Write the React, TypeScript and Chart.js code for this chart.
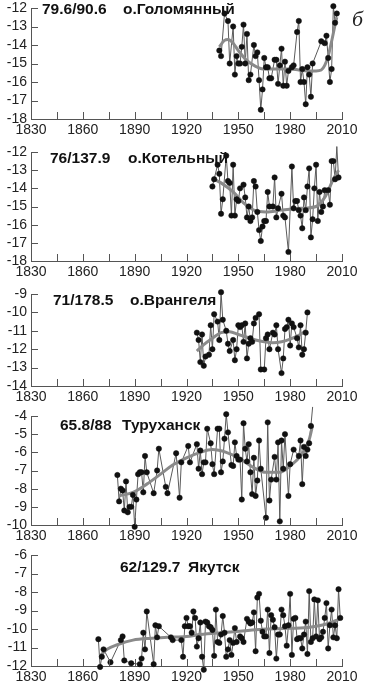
import React, { useEffect, useRef } from 'react';
import { Chart, registerables } from 'chart.js';
Chart.register(...registerables);

// ---------- data ----------
const xMinYear = 1830;
const xMaxYear = 2010;
const xStep = 15;

// Panel 1: 79.6/90.6 о.Голомянный
const golYears = [1939,1940,1942,1944,1945,1947,1948,1949,1950,1951,1952,1953,1954,1955,1956,1957,1959,1960,1961,1962,1963,1964,1965,1966,1967,1968,1969,1971,1972,1973,1974,1975,1976,1977,1978,1979,1981,1982,1984,1985,1986,1987,1988,1989,1990,1991,1992,1993,1998,2000,2001,2002,2003,2004,2005,2006,2007];
const golTemp = [-14.3,-14.6,-12.3,-12.7,-15.0,-13.0,-15.6,-14.6,-15.0,-15.0,-14.1,-12.9,-15.0,-13.4,-15.9,-15.6,-14.0,-14.6,-14.4,-15.9,-17.5,-16.4,-14.7,-15.2,-15.2,-15.8,-15.8,-14.8,-14.8,-16.1,-15.1,-14.2,-16.2,-14.9,-16.2,-15.4,-15.2,-15.1,-13.3,-12.7,-16.0,-15.3,-16.0,-17.2,-15.2,-15.6,-16.8,-15.0,-13.8,-13.9,-13.5,-14.7,-16.0,-15.3,-11.9,-12.8,-12.3];
const golTrendYears = [1939,1942,1944,1947,1950,1955,1960,1965,1970,1975,1980,1985,1990,1995,1998,2000,2002,2004,2006,2007];
const golTrend = [-14.1,-13.75,-13.7,-13.9,-14.3,-14.85,-15.15,-15.3,-15.3,-15.3,-15.3,-15.35,-15.4,-15.4,-15.35,-15.1,-14.6,-13.8,-12.9,-12.5];

// Panel 2: 76/137.9 о.Котельный
const kotYears = [1935,1936,1938,1939,1940,1941,1943,1944,1945,1946,1947,1948,1949,1950,1951,1953,1954,1955,1956,1957,1958,1959,1960,1961,1962,1963,1964,1965,1966,1967,1968,1970,1971,1972,1973,1975,1976,1977,1979,1981,1982,1983,1984,1985,1986,1987,1988,1989,1990,1991,1992,1993,1994,1995,1996,1997,1998,1999,2000,2002,2003,2004,2005,2006,2007,2008];
const kotTemp = [-13.9,-13.5,-12.7,-13.2,-15.4,-14.6,-12.2,-13.6,-13.7,-15.5,-12.7,-15.5,-14.6,-14.7,-14.0,-13.8,-14.5,-15.6,-15.0,-15.8,-15.6,-13.6,-13.9,-15.3,-16.3,-16.9,-16.1,-15.8,-15.8,-14.2,-15.0,-15.0,-13.4,-15.6,-15.1,-14.3,-15.5,-15.6,-17.5,-12.8,-15.1,-14.7,-14.7,-15.2,-15.5,-16.2,-14.5,-15.2,-13.9,-12.9,-16.7,-15.7,-14.0,-12.7,-15.8,-14.2,-15.3,-15.0,-14.1,-14.1,-14.9,-12.5,-12.5,-13.5,-11.7,-13.4];
const kotTrendYears = [1935,1940,1947,1953,1959,1966,1975,1986,1995,2000,2005,2008];
const kotTrend = [-13.45,-13.7,-14.2,-14.8,-15.2,-15.3,-15.2,-15.1,-15.0,-14.5,-13.5,-13.0];

// Panel 3: 71/178.5 о.Врангеля
const wraYears = [1926,1927,1928,1929,1930,1931,1933,1934,1935,1936,1938,1939,1940,1941,1943,1944,1945,1947,1948,1949,1950,1951,1952,1953,1954,1955,1956,1957,1958,1959,1960,1962,1963,1965,1966,1967,1968,1970,1971,1972,1973,1975,1976,1977,1978,1979,1980,1981,1982,1984,1985,1986,1987,1988,1989,1990];
const wraTemp = [-11.1,-11.5,-12.7,-11.2,-12.9,-12.4,-12.3,-10.7,-12.0,-10.1,-10.5,-11.5,-8.9,-10.4,-11.0,-11.7,-12.1,-11.5,-12.6,-12.0,-10.7,-10.8,-10.7,-11.6,-10.6,-12.5,-11.7,-11.4,-11.6,-10.6,-10.3,-10.1,-13.1,-13.1,-11.4,-11.2,-12.0,-11.1,-11.2,-10.7,-12.0,-13.3,-12.5,-10.9,-10.8,-10.4,-11.8,-10.6,-10.8,-11.4,-11.9,-10.7,-12.3,-12.0,-11.1,-10.0];
const wraTrendYears = [1926,1930,1935,1940,1945,1950,1955,1960,1965,1970,1975,1980,1985,1989];
const wraTrend = [-12.1,-11.75,-11.4,-11.1,-11.05,-11.2,-11.35,-11.5,-11.6,-11.65,-11.6,-11.45,-11.25,-11.0];

// Panel 4: 65.8/88 Туруханск
const turYears = [1880,1881,1882,1883,1884,1885,1886,1887,1888,1889,1890,1891,1892,1893,1894,1895,1896,1897,1901,1903,1904,1908,1909,1914,1916,1917,1921,1922,1926,1927,1928,1929,1930,1931,1932,1934,1935,1936,1938,1939,1940,1941,1942,1943,1944,1946,1947,1948,1949,1950,1951,1952,1953,1954,1955,1956,1957,1958,1959,1960,1961,1962,1963,1966,1967,1968,1969,1971,1972,1973,1974,1975,1976,1977,1979,1980,1982,1985,1986,1987,1988,1989,1990,1991,1992,1993];
const turTemp = [-7.25,-8.7,-8.0,-8.1,-9.2,-7.6,-9.3,-9.0,-9.0,-8.35,-10.1,-8.6,-7.2,-7.1,-7.1,-8.2,-6.2,-7.1,-8.25,-7.0,-5.8,-7.9,-8.25,-6.05,-8.5,-6.55,-5.65,-6.55,-5.55,-6.9,-5.9,-7.2,-6.55,-6.55,-4.7,-5.5,-6.65,-7.2,-4.7,-4.7,-7.1,-6.5,-5.25,-3.9,-4.9,-6.7,-6.75,-5.45,-6.2,-6.4,-6.4,-8.6,-4.4,-5.8,-6.5,-5.55,-7.1,-8.3,-6.3,-8.4,-7.55,-5.35,-6.9,-9.6,-4.35,-8.65,-7.5,-6.25,-7.5,-5.45,-9.8,-5.35,-6.9,-5.0,-8.4,-6.65,-5.85,-6.2,-5.35,-7.75,-5.7,-6.2,-5.85,-5.5,-4.55,-3.5];
const turTrendYears = [1881,1889,1897,1905,1912,1920,1928,1935,1943,1951,1959,1966,1974,1980,1986,1991,1993];
const turTrend = [-8.4,-8.2,-7.75,-7.2,-6.7,-6.3,-6.0,-5.85,-6.0,-6.35,-6.85,-7.1,-7.1,-6.75,-6.2,-5.3,-4.5];

// Panel 5: 62/129.7 Якутск
const yakYears = [1869,1870,1871,1872,1876,1882,1883,1884,1888,1893,1894,1895,1896,1897,1901,1902,1903,1904,1911,1912,1917,1918,1919,1920,1921,1922,1923,1924,1925,1926,1927,1928,1929,1930,1931,1932,1933,1934,1935,1936,1937,1938,1939,1940,1941,1942,1943,1944,1945,1946,1947,1948,1949,1951,1952,1953,1955,1956,1957,1958,1959,1960,1961,1962,1963,1964,1965,1966,1967,1968,1969,1970,1971,1972,1973,1974,1975,1976,1977,1978,1979,1980,1981,1982,1983,1984,1985,1986,1987,1988,1989,1990,1991,1992,1993,1994,1995,1996,1997,1998,1999,2000,2001,2002,2003,2004,2005,2006,2007,2008,2009];
const yakTemp = [-10.55,-12.05,-11.5,-11.1,-11.8,-10.6,-10.4,-11.7,-11.85,-11.9,-11.6,-10.2,-11.1,-9.05,-11.9,-9.8,-10.45,-9.85,-10.45,-10.6,-10.6,-11.5,-9.85,-9.4,-9.85,-9.85,-10.2,-9.05,-9.4,-10.95,-10.5,-9.65,-11.5,-12.2,-9.6,-9.65,-9.85,-9.9,-10.05,-11.45,-8.95,-10.7,-10.75,-10.3,-9.3,-10.2,-11.5,-11.1,-10.6,-11.4,-10.75,-9.95,-10.7,-10.4,-10.5,-10.7,-9.45,-9.6,-9.7,-9.65,-9.1,-11.2,-8.3,-8.1,-9.55,-10.15,-10.4,-10.4,-8.95,-11.3,-9.25,-9.5,-9.9,-11.6,-10.3,-10.3,-8.95,-9.25,-9.85,-10.9,-9.8,-8.1,-11.4,-9.45,-9.4,-10.55,-10.5,-10.5,-11.05,-10.3,-9.6,-11.35,-7.95,-10.7,-10.5,-8.4,-10.4,-8.45,-10.55,-10.45,-10.15,-9.4,-8.6,-11.05,-9.8,-8.95,-10.45,-9.8,-10.5,-7.85,-9.4];
const yakTrendYears = [1870,1874,1880,1889,1900,1909,1920,1928,1940,1947,1958,1966,1976,1986,1995,2002,2009];
const yakTrend = [-11.45,-11.1,-10.85,-10.6,-10.5,-10.45,-10.4,-10.3,-10.2,-10.15,-10.05,-10.0,-9.97,-9.95,-9.85,-9.7,-9.45];

const stationCodes = ['79.6/90.6', '76/137.9', '71/178.5', '65.8/88', '62/129.7'];
const stationNames = ['о.Голомянный', 'о.Котельный', 'о.Врангеля', 'Туруханск', 'Якутск'];
const yMins = [-18, -18, -14, -10, -12];
const yMaxs = [-12, -12, -9, -4, -6];
const panelYears = [golYears, kotYears, wraYears, turYears, yakYears];
const panelTemps = [golTemp, kotTemp, wraTemp, turTemp, yakTemp];
const panelTrendYears = [golTrendYears, kotTrendYears, wraTrendYears, turTrendYears, yakTrendYears];
const panelTrends = [golTrend, kotTrend, wraTrend, turTrend, yakTrend];
const panelLetter = 'б';

// ---------- layout (page pixels) ----------
const W = 365;
const AREA_LEFT = 31;
const AREA_RIGHT = 342;
const PAD_TOP = 14;
const X_AXIS_H = 20;
const areaTops = [7.5, 152, 294, 416, 555];
const areaBottoms = [118, 261, 386, 525, 666];
const codeX = [42, 50, 53, 60, 120];
const nameX = [123, 128, 130, 122, 188];
const titleBaseY = [13.5, 162.5, 304.5, 430, 571.5];

const FONT = '"Liberation Sans", Arial, Helvetica, sans-serif';

const innerTicks = {
  id: 'innerTicks',
  afterDraw(chart: any) {
    const { ctx, chartArea, scales } = chart;
    const xs = scales.x, ys = scales.y;
    const len = 7;
    ctx.save();
    ctx.strokeStyle = '#555';
    ctx.lineWidth = 1;
    ctx.beginPath();
    xs.ticks.forEach((t: any) => {
      if (t.value === xs.min) return;
      const px = Math.round(xs.getPixelForValue(t.value)) + 0.5;
      ctx.moveTo(px, chartArea.bottom);
      ctx.lineTo(px, chartArea.bottom - len);
    });
    ys.ticks.forEach((t: any) => {
      if (t.value === ys.min) return;
      const py = Math.round(ys.getPixelForValue(t.value)) + 0.5;
      ctx.moveTo(chartArea.left, py);
      ctx.lineTo(chartArea.left + len, py);
    });
    ctx.stroke();
    ctx.restore();
  },
};

const labels = {
  id: 'panelLabels',
  afterDraw(chart: any, _args: any, opts: any) {
    const { ctx } = chart;
    ctx.save();
    (opts.items || []).forEach((it: any) => {
      ctx.font = it.font;
      ctx.fillStyle = it.color || '#111';
      ctx.textAlign = 'left';
      ctx.textBaseline = 'alphabetic';
      ctx.fillText(it.text, it.x, it.y - opts.offsetY);
    });
    ctx.restore();
  },
};

function Panel({ idx }: { idx: number }) {
  const ref = useRef<HTMLCanvasElement>(null);
  const canvasTop = areaTops[idx] - PAD_TOP;
  const canvasH = Math.ceil(areaBottoms[idx] + X_AXIS_H - canvasTop);

  useEffect(() => {
    const years = panelYears[idx];
    const temps = panelTemps[idx];
    const pts = years.map((x, i) => ({ x, y: temps[i] }));
    const tYears = panelTrendYears[idx];
    const tVals = panelTrends[idx];
    const trendPts = tYears.map((x, i) => ({ x, y: tVals[i] }));

    const items: any[] = [
      { text: stationCodes[idx], x: codeX[idx], y: titleBaseY[idx], font: `bold 15.5px ${FONT}` },
      { text: stationNames[idx], x: nameX[idx], y: titleBaseY[idx], font: `bold 15.5px ${FONT}` },
    ];
    if (idx === 0) {
      items.push({ text: panelLetter, x: 352, y: 25, font: 'italic 22px "Liberation Serif", "DejaVu Serif", serif', color: '#222' });
    }

    const chart = new Chart(ref.current as HTMLCanvasElement, {
      type: 'scatter',
      data: {
        datasets: [
          {
            data: pts,
            showLine: false,
            pointRadius: 2.7,
            pointBackgroundColor: '#111',
            pointBorderColor: '#111',
            pointBorderWidth: 0.5,
            clip: false,
            order: 0,
          } as any,
          {
            data: trendPts,
            showLine: true,
            pointRadius: 0,
            borderColor: '#8a8a8a',
            borderWidth: 3,
            cubicInterpolationMode: 'monotone',
            clip: false,
            order: 1,
          } as any,
          {
            data: pts,
            showLine: true,
            pointRadius: 0,
            borderColor: '#5a5a5a',
            borderWidth: 1,
            clip: false,
            order: 2,
          } as any,
        ],
      },
      options: {
        animation: false,
        responsive: false,
        events: [],
        layout: { padding: { top: PAD_TOP, right: W - AREA_RIGHT, bottom: 0, left: 0 } },
        plugins: {
          legend: { display: false },
          tooltip: { enabled: false },
          panelLabels: { items, offsetY: canvasTop },
        } as any,
        scales: {
          x: {
            type: 'linear',
            min: xMinYear,
            max: xMaxYear,
            afterFit: (s: any) => { s.height = X_AXIS_H; },
            grid: { display: true, drawOnChartArea: false, drawTicks: false },
            border: { display: true, color: '#555', width: 1 },
            ticks: {
              stepSize: xStep,
              autoSkip: false,
              maxRotation: 0,
              padding: 3,
              color: '#222',
              font: { family: FONT, size: 14 },
              callback: (v: any) => ((v - xMinYear) % 30 === 0 ? String(v) : ''),
            },
          },
          y: {
            type: 'linear',
            min: yMins[idx],
            max: yMaxs[idx],
            afterFit: (s: any) => { s.width = AREA_LEFT; },
            grid: { display: true, drawOnChartArea: false, drawTicks: false },
            border: { display: true, color: '#555', width: 1 },
            ticks: {
              stepSize: 1,
              autoSkip: false,
              padding: 4,
              color: '#222',
              font: { family: FONT, size: 14 },
              callback: (v: any) => String(v),
            },
          },
        },
      },
      plugins: [innerTicks, labels],
    });
    return () => chart.destroy();
  }, [idx, canvasTop]);

  return (
    <canvas
      ref={ref}
      width={W}
      height={canvasH}
      style={{ position: 'absolute', left: 0, top: canvasTop, width: W, height: canvasH }}
    />
  );
}

export default function App() {
  return (
    <div style={{ position: 'fixed', left: 0, top: 0, width: W, height: 689, background: '#fff', overflow: 'hidden' }}>
      {[0, 1, 2, 3, 4].map((i) => (
        <Panel key={i} idx={i} />
      ))}
    </div>
  );
}
